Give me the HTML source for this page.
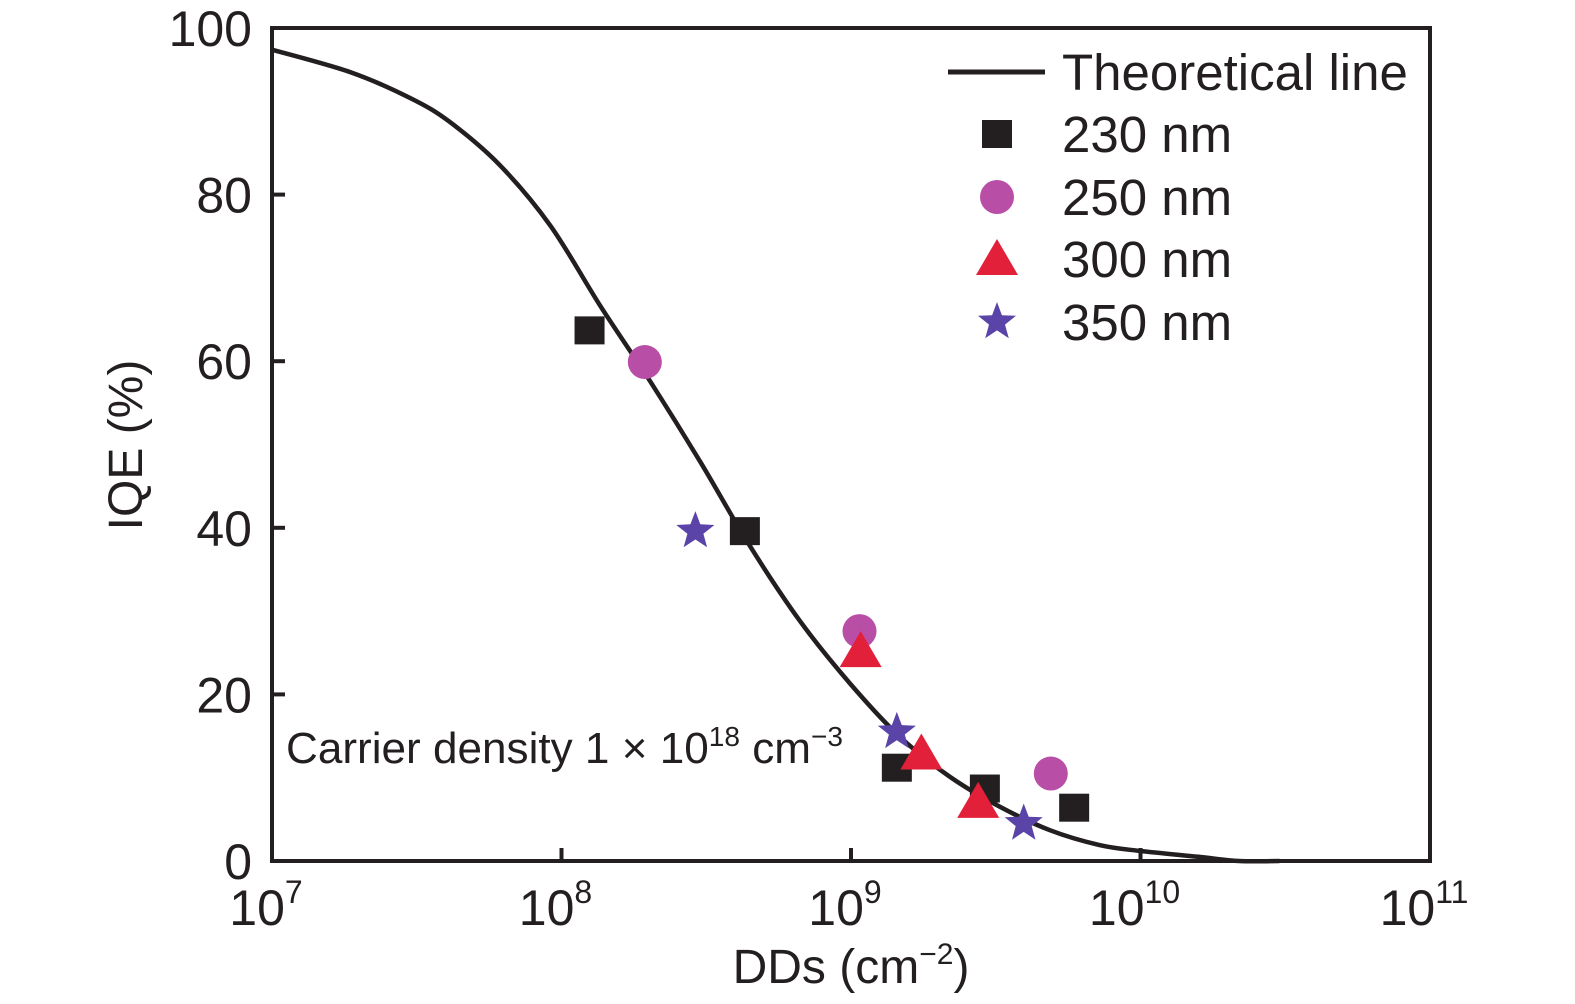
<!DOCTYPE html>
<html><head><meta charset="utf-8"><style>
body{margin:0;background:#fff;}
svg{display:block;font-family:"Liberation Sans","DejaVu Sans",sans-serif;}
</style></head><body>
<svg id="chart" width="1575" height="1004" viewBox="0 0 1575 1004" xmlns="http://www.w3.org/2000/svg">
<g id="axes"></g>
<g id="marks"></g>
<g id="legend"></g>
<text x="286" y="763" font-size="44" fill="#231f20" textLength="557" lengthAdjust="spacingAndGlyphs">Carrier density 1 × 10<tspan dy="-17" font-size="28">18</tspan><tspan dy="17"> cm</tspan><tspan dy="-17" font-size="28">−3</tspan></text>
<text transform="translate(142,445) rotate(-90)" text-anchor="middle" font-size="48" fill="#231f20">IQE (%)</text>
<text x="851" y="983" text-anchor="middle" font-size="48" fill="#231f20">DDs (cm<tspan dy="-19" font-size="30">−2</tspan><tspan dy="19">)</tspan></text>
</svg>
<script>
const xTickExps=[7,8,9,10,11];
const yTicks=[0,20,40,60,80,100];
const theoX=[7.0,7.27,7.477,7.615,7.788,7.961,8.133,8.306,8.478,8.651,8.824,8.997,9.169,9.342,9.515,9.687,9.86,10.0,10.2,10.34,10.48];
const theoY=[97.4,94.7,91.6,88.7,83.5,76.3,66.7,57.6,48.0,37.8,28.8,21.3,14.9,10.1,6.5,3.7,1.9,1.2,0.5,0,0];
const s230x=[1.25e8,4.3e8,1.44e9,2.9e9,5.9e9];
const s230y=[63.7,39.6,11.2,8.7,6.4];
const s250x=[1.94e8,1.07e9,4.9e9];
const s250y=[59.9,27.6,10.5];
const s300x=[1.08e9,1.75e9,2.75e9];
const s300y=[25.2,12.9,7.1];
const s350x=[2.9e8,1.44e9,3.95e9];
const s350y=[39.6,15.5,4.5];

const L=272,R=1430,T=28,B=861;
const xs=lg=>L+(lg-7)/4*(R-L);
const xv=v=>xs(Math.log10(v));
const ys=v=>B-v/100*(B-T);
const NS="http://www.w3.org/2000/svg";
function mk(tag,attrs,parent){const e=document.createElementNS(NS,tag);for(const k in attrs)e.setAttribute(k,attrs[k]);parent.appendChild(e);return e;}
const axes=document.getElementById('axes'),marks=document.getElementById('marks'),legend=document.getElementById('legend');
const frame=mk('rect',{x:L,y:T,width:R-L,height:B-T,fill:'none',stroke:'#231f20','stroke-width':4},axes);


xTickExps.forEach(e=>{
  const x=xs(e);
  const t=mk('line',{x1:x,x2:x,y1:B,y2:B-13,stroke:'#231f20','stroke-width':4},axes);
  
  
  const lb=mk('text',{x:x-6,y:925,'text-anchor':'middle','font-size':50,fill:'#231f20'},axes);
  
  
  lb.textContent='10';
  const sp=mk('tspan',{dy:-22,'font-size':32},lb);sp.textContent=e;
});
yTicks.forEach(v=>{
  const y=ys(v);
  const t=mk('line',{x1:L,x2:L+13,y1:y,y2:y,stroke:'#231f20','stroke-width':4},axes);
  
  
  const lb=mk('text',{x:252,y:y+18,'text-anchor':'end','font-size':50,fill:'#231f20'},axes);
  
  
  lb.textContent=v;
});
// smooth path via Catmull-Rom
const pts=theoX.map((lgv,i)=>[xs(lgv),ys(theoY[i])]);
let d='M'+pts[0][0].toFixed(1)+','+pts[0][1].toFixed(1);
for(let i=0;i<pts.length-1;i++){
  const p0=pts[Math.max(0,i-1)],p1=pts[i],p2=pts[i+1],p3=pts[Math.min(pts.length-1,i+2)];
  const c1=[p1[0]+(p2[0]-p0[0])/6,p1[1]+(p2[1]-p0[1])/6],c2=[p2[0]-(p3[0]-p1[0])/6,p2[1]-(p3[1]-p1[1])/6];
  d+=' C'+c1.map(v=>v.toFixed(1)).join(',')+' '+c2.map(v=>v.toFixed(1)).join(',')+' '+p2.map(v=>v.toFixed(1)).join(',');
}
const path=mk('path',{d:d,fill:'none',stroke:'#231f20','stroke-width':4.5,'stroke-linejoin':'round'},marks);


function star(cx,cy,r){let p=[];for(let i=0;i<10;i++){const a=-Math.PI/2+i*Math.PI/5;const rr=i%2?r*0.42:r;p.push((cx+rr*Math.cos(a)).toFixed(1)+','+(cy+rr*Math.sin(a)).toFixed(1));}return p.join(' ');}
function marker(type,cx,cy,parent){
  if(type==='sq')return mk('rect',{x:cx-15,y:cy-14,width:30,height:28,fill:'#231f20'},parent);
  if(type==='ci')return mk('circle',{cx:cx,cy:cy,r:17,fill:'#b84ea6'},parent);
  if(type==='tr')return mk('polygon',{points:`${cx},${cy-20} ${cx+21},${cy+16} ${cx-21},${cy+16}`,fill:'#e3203a'},parent);
  return mk('polygon',{points:star(cx,cy,20),fill:'#5a44a8'},parent);
}
[[s230x,s230y,'sq','230'],[s250x,s250y,'ci','250'],[s300x,s300y,'tr','300'],[s350x,s350y,'st','350']].forEach(([X,Y,t,n])=>{
  X.forEach((v,i)=>{
    const m=marker(t,xv(v),ys(Y[i]),marks);
    
    
  });
});
const ll=mk('line',{x1:948,x2:1045,y1:72,y2:72,stroke:'#231f20','stroke-width':5},legend);


const entries=[['Theoretical line',72,null],['230 nm',134,'sq'],['250 nm',197,'ci'],['300 nm',259,'tr'],['350 nm',322,'st']];
entries.forEach(([txt,y,t])=>{
  if(t){const m=marker(t,997,y,legend);
  
  }
  const tx=mk('text',{x:1062,y:y+18,'font-size':51,fill:'#231f20'},legend);
  
  
  tx.textContent=txt;
});
</script>
</body></html>
